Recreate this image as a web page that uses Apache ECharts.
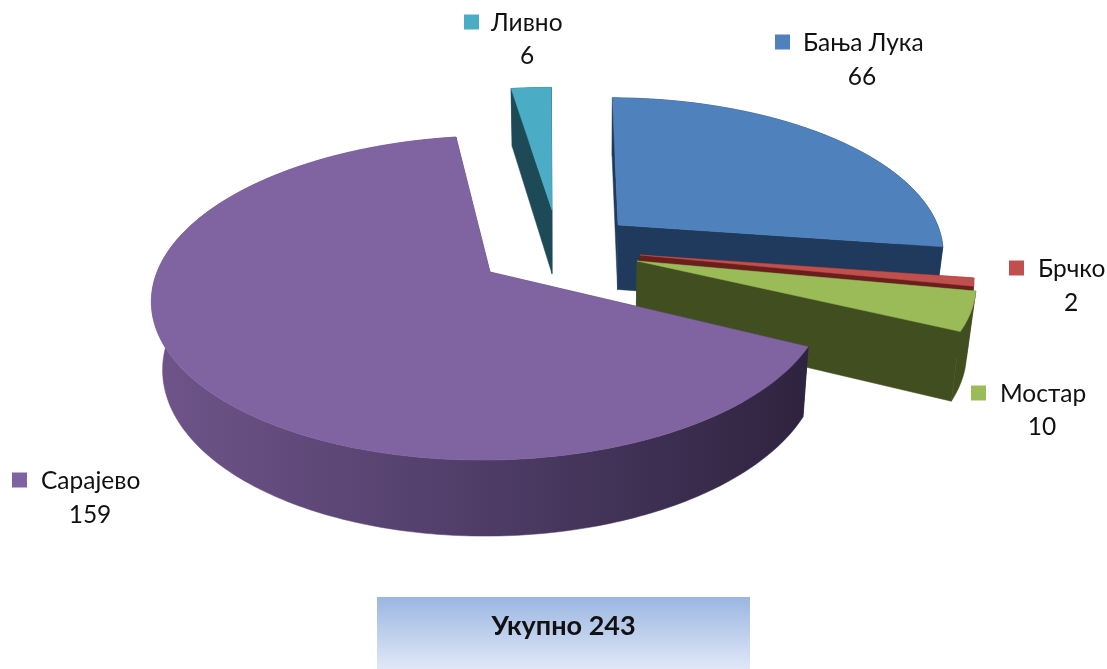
<!DOCTYPE html>
<html>
<head>
<meta charset="utf-8">
<style>html,body{margin:0;padding:0;background:#fff}#c{width:1107px;height:669px}</style>
<script src="https://cdn.jsdelivr.net/npm/echarts@6/dist/echarts.min.js"></script>
</head>
<body>
<div id="c"></div>
<script>
// Data, clockwise from the top of the pie
const categories = ['Бања Лука', 'Брчко', 'Мостар', 'Сарајево', 'Ливно'];
const values = [66, 2, 10, 159, 6];
const totalLabel = 'Укупно';

// Styles and layout
const topColors = ['#4f81bd', '#c0504d', '#9bbb59', '#8064a2', '#4aacc5'];
const wallColors = ['#1f3a5c', '#6a1f1d', '#414f20', '#4a3a60', '#1e4a58'];
const apexX = [618, 640, 637, 490, 552];
const apexY = [225, 255, 261, 272, 210];
const scaleX = [0.955, 0.985, 1.0, 0.995, 0.9];
const scaleY = [0.934, 0.985, 0.945, 1, 0.9];
const shearX = [8, 0, 0, -8, 3];
const wallCenterX = [600, 600, 600, 600, 552];
const paintOrder = [4, 0, 1, 2, 3];
const squareX = [775, 1009, 971, 12, 464];
const labelRowY = [43, 269, 394, 481, 23];
const nameX = [803, 1038, 1000, 41, 491];
const valueCenterX = [862, 1071, 1042, 90, 527];
const valueRowY = [77, 303, 427, 515, 56];
const START_ANGLE = 270.5, RX = 334.6, RY = 158, PERSP = 0.16;
const FONT = 'Lato, "Open Sans", sans-serif';

const total = values.reduce((a, b) => a + b, 0);
const startAngles = [];
values.reduce((acc, v, i) => { startAngles[i] = acc; return acc + v / total * 360; }, START_ANGLE);

function topPoint(i, deg) {
  const t = deg * Math.PI / 180, sin = Math.sin(t), w = 1 - PERSP * sin;
  return [apexX[i] + scaleX[i] * RX * Math.cos(t) / w + shearX[i] * sin,
          apexY[i] + scaleY[i] * RY * sin / w];
}
function lower(i, p) {
  const c = wallCenterX[i];
  return [c + 0.975 * (p[0] - c), -1091 + 1.049 * (p[1] + 1091)];
}
function renderItem(params, api) {
  const i = api.value(0), v = api.value(1);
  const a0 = startAngles[i], a1 = a0 + v / total * 360;
  const arc = [];
  const n = Math.max(2, Math.ceil(a1 - a0));
  for (let k = 0; k <= n; k++) arc.push(topPoint(i, a0 + (a1 - a0) * k / n));
  const apex = [apexX[i], apexY[i]];
  const wallFill = i === 3
    ? new echarts.graphic.LinearGradient(160, 0, 800, 0, [
        { offset: 0, color: '#6e5489' }, { offset: 0.45, color: '#523f6b' }, { offset: 1, color: '#2f2440' }
      ], true)
    : wallColors[i];
  const low = p => lower(i, p);
  const quad = (a, b) => [a, b, low(b), low(a)];
  const poly = (pts, fill) => ({ type: 'polygon', shape: { points: pts }, style: { fill: fill, stroke: fill, lineWidth: 0.5 } });
  const children = [
    poly(quad(apex, arc[0]), wallFill),
    poly(quad(apex, arc[n]), wallFill),
    poly(arc.concat(arc.slice().reverse().map(low)), wallFill),
    poly([apex].concat(arc), topColors[i])
  ];
  return { type: 'group', children: children };
}
function labelItem(params, api) {
  const i = api.value(0), v = api.value(1);
  return { type: 'group', children: [
    { type: 'rect', shape: { x: squareX[i], y: labelRowY[i] - 8.5, width: 15, height: 15 }, style: { fill: topColors[i] } },
    { type: 'text', x: nameX[i], y: labelRowY[i], style: { text: categories[i], font: '24.5px ' + FONT, fill: '#111', align: 'left', verticalAlign: 'middle' } },
    { type: 'text', x: valueCenterX[i], y: valueRowY[i], style: { text: String(v), font: '24.5px ' + FONT, fill: '#111', align: 'center', verticalAlign: 'middle' } }
  ]};
}
const rows = paintOrder.map(i => [i, values[i]]);
const chart = echarts.init(document.getElementById('c'), null, { renderer: 'canvas' });
chart.setOption({
  animation: false,
  backgroundColor: '#ffffff',
  series: [
    { type: 'custom', coordinateSystem: 'none', silent: true, renderItem: renderItem, data: rows, z: 2 },
    { type: 'custom', coordinateSystem: 'none', silent: true, renderItem: labelItem, data: rows, z: 3 }
  ],
  graphic: [
    { type: 'rect', shape: { x: 377, y: 597, width: 373, height: 72 },
      style: { fill: new echarts.graphic.LinearGradient(0, 0, 0, 1, [{ offset: 0, color: '#9bb6e2' }, { offset: 1, color: '#e0e8f6' }]) }, z: 1 },
    { type: 'text', x: 563.5, y: 626, style: { text: totalLabel + ' ' + total, font: 'bold 27px ' + FONT, fill: '#111', align: 'center', verticalAlign: 'middle' }, z: 4 }
  ]
});
</script>
</body>
</html>
